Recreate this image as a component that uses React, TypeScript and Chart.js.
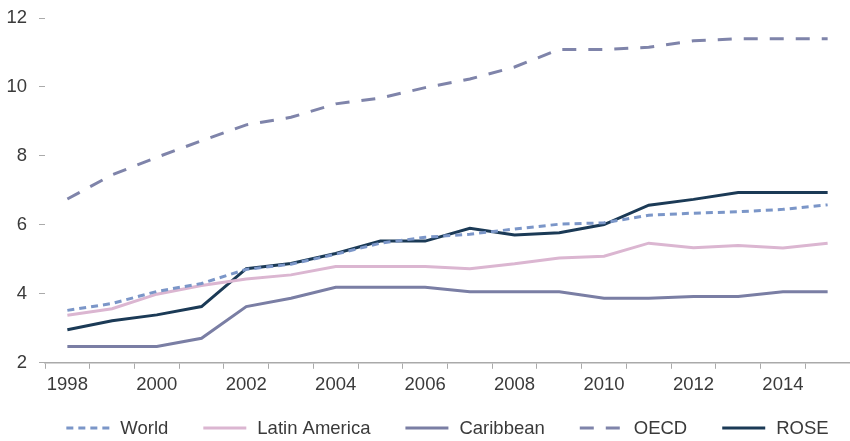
import React, { useEffect, useRef } from "react";
import { Chart, registerables } from "chart.js";

Chart.register(...registerables);

const years = ["1998","1999","2000","2001","2002","2003","2004","2005","2006","2007","2008","2009","2010","2011","2012","2013","2014","2015"];
const world = [3.52, 3.72, 4.07, 4.3, 4.71, 4.86, 5.15, 5.47, 5.64, 5.73, 5.88, 6.02, 6.06, 6.28, 6.34, 6.38, 6.45, 6.58];
const latinAmerica = [3.38, 3.57, 3.99, 4.24, 4.43, 4.55, 4.79, 4.79, 4.79, 4.73, 4.87, 5.04, 5.09, 5.47, 5.34, 5.4, 5.33, 5.47];
const caribbean = [2.47, 2.47, 2.47, 2.71, 3.63, 3.87, 4.19, 4.19, 4.19, 4.06, 4.06, 4.06, 3.87, 3.87, 3.92, 3.92, 4.06, 4.06];
const oecd = [6.75, 7.45, 7.96, 8.44, 8.9, 9.12, 9.51, 9.68, 9.98, 10.23, 10.58, 11.09, 11.09, 11.15, 11.34, 11.4, 11.4, 11.4];
const rose = [2.96, 3.22, 3.39, 3.63, 4.73, 4.88, 5.17, 5.53, 5.53, 5.9, 5.71, 5.77, 6.01, 6.57, 6.74, 6.94, 6.94, 6.94];
const yTicks = [2, 4, 6, 8, 10, 12];

const FONT = "'Liberation Sans', Arial, sans-serif";
const FONT_SIZE = 18.5;
const TEXT_COLOR = "#3a3a3a";

const legendPlugin = {
  id: "lineLegend",
  afterDraw(chart: any) {
    const ctx = chart.ctx as CanvasRenderingContext2D;
    const area = chart.chartArea;
    const lineW = 43;
    const textGap = 11;
    const itemGap = 35;
    const y = 428;
    ctx.save();
    ctx.font = `${FONT_SIZE}px ${FONT}`;
    const items = chart.data.datasets.map((ds: any) => ({
      ds,
      tw: ctx.measureText(ds.label).width,
    }));
    const total =
      items.reduce((s: number, it: any) => s + lineW + textGap + it.tw, 0) +
      itemGap * (items.length - 1);
    let x = (area.left + area.right) / 2 - total / 2;
    for (const it of items) {
      ctx.beginPath();
      ctx.strokeStyle = it.ds.borderColor;
      ctx.lineWidth = it.ds.borderWidth;
      ctx.setLineDash(it.ds.borderDash || []);
      ctx.moveTo(x, y);
      ctx.lineTo(x + lineW, y);
      ctx.stroke();
      ctx.setLineDash([]);
      ctx.fillStyle = TEXT_COLOR;
      ctx.textBaseline = "middle";
      ctx.textAlign = "left";
      ctx.fillText(it.ds.label, x + lineW + textGap, y + 1);
      x += lineW + textGap + it.tw + itemGap;
    }
    ctx.restore();
  },
};

export default function App() {
  const ref = useRef<HTMLCanvasElement | null>(null);
  useEffect(() => {
    if (!ref.current) return;
    const chart = new Chart(ref.current, {
      type: "line",
      data: {
        labels: years,
        datasets: [
          { label: "World", data: world, borderColor: "#7b96c8", backgroundColor: "#7b96c8", borderWidth: 3, borderDash: [7, 5], pointRadius: 0, tension: 0 },
          { label: "Latin America", data: latinAmerica, borderColor: "#dbb6d1", backgroundColor: "#dbb6d1", borderWidth: 3, pointRadius: 0, tension: 0 },
          { label: "Caribbean", data: caribbean, borderColor: "#7a7ea4", backgroundColor: "#7a7ea4", borderWidth: 3, pointRadius: 0, tension: 0 },
          { label: "OECD", data: oecd, borderColor: "#7f84aa", backgroundColor: "#7f84aa", borderWidth: 3, borderDash: [14, 12], pointRadius: 0, tension: 0 },
          { label: "ROSE", data: rose, borderColor: "#1b3a56", backgroundColor: "#1b3a56", borderWidth: 3, pointRadius: 0, tension: 0 },
        ],
      },
      plugins: [legendPlugin],
      options: {
        animation: false,
        responsive: true,
        maintainAspectRatio: false,
        layout: { padding: { left: 6, right: 0, top: 0, bottom: 40 } },
        plugins: {
          tooltip: { enabled: false },
          legend: { display: false },
        },
        scales: {
          x: {
            type: "category",
            offset: true,
            grid: { display: true, drawOnChartArea: false, drawTicks: true, tickLength: 6, color: "#aaaaaa", offset: true },
            border: { display: true, color: "#aaaaaa", width: 1.5 },
            ticks: {
              autoSkip: false,
              maxRotation: 0,
              padding: 5,
              color: TEXT_COLOR,
              font: { family: FONT, size: FONT_SIZE },
              callback: (_v: any, i: number) => (i % 2 === 0 ? years[i] : ""),
            },
          },
          y: {
            min: 2,
            max: 12,
            afterBuildTicks: (axis: any) => {
              axis.ticks = yTicks.map((v) => ({ value: v }));
            },
            afterFit: (scale: any) => {
              scale.width = 39;
              scale.paddingTop = 18;
            },
            grid: { display: true, drawOnChartArea: false, drawTicks: true, tickLength: 6, color: "#aaaaaa" },
            border: { display: false },
            ticks: {
              padding: 12,
              color: TEXT_COLOR,
              font: { family: FONT, size: FONT_SIZE },
            },
          },
        },
      },
    });
    return () => chart.destroy();
  }, []);
  return (
    <div style={{ position: "fixed", left: 0, top: 0, width: 850, height: 441 }}>
      <canvas ref={ref} />
    </div>
  );
}
